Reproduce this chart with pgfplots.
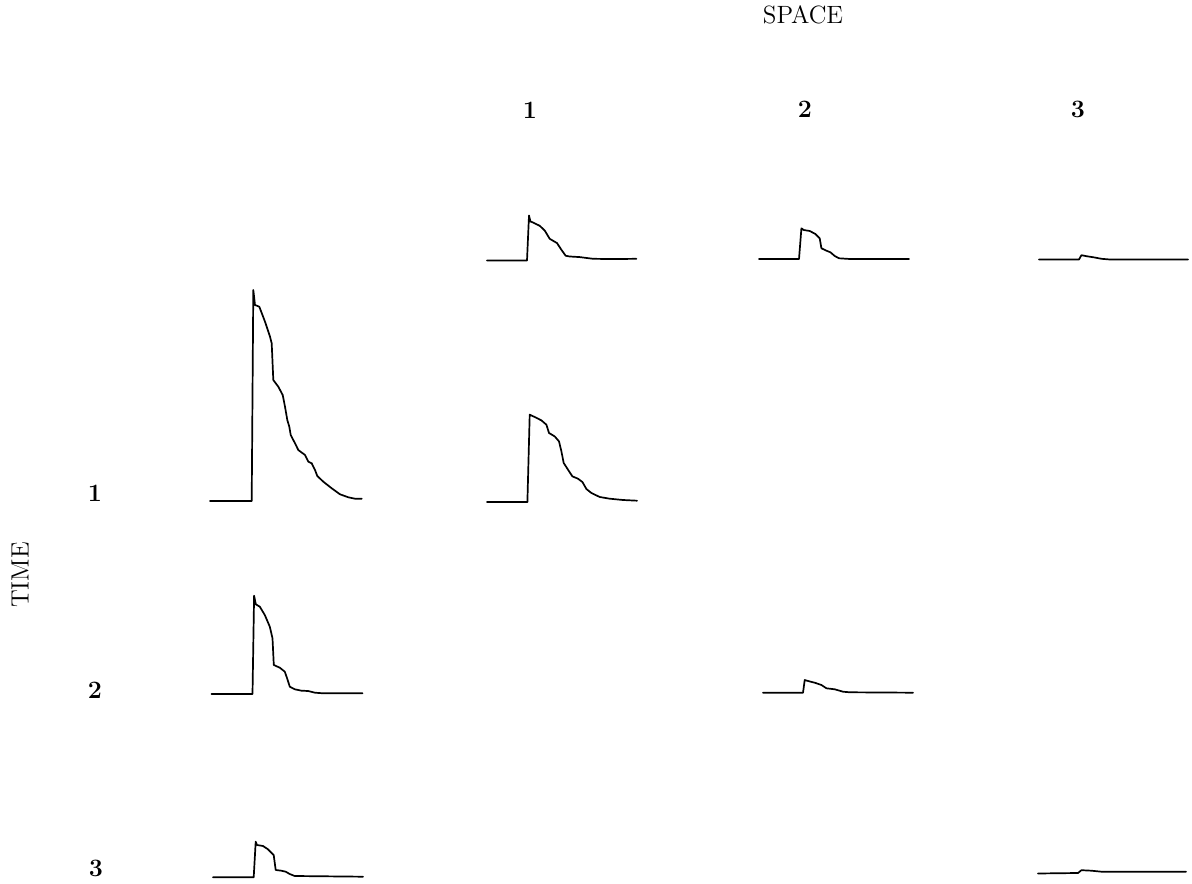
\documentclass[border=0pt]{standalone}
\usepackage{pgfplots}
\pgfplotsset{compat=1.18}

% one drawing unit = 0.5pt; vertical positions are measured from the top edge (883)
\pgfplotsset{
  panel/.style={
    hide axis, clip=false, enlargelimits=false,
    x=0.5pt, y=0.5pt, xmin=0, xmax=152, ymin=0, ymax=215,
    anchor=south west,
  },
  trace/.style={black, line width=0.85pt, line join=round, line cap=round},
}

\begin{document}
\begin{tikzpicture}[x=0.5pt, y=0.5pt]
\useasboundingbox (0,0) rectangle (1192,883);

\begin{scope}[font=\fontsize{12.5}{14}\selectfont]
  \node at (803,{883-15}) {SPACE};
  \node at (530,{883-110}) {\textbf{1}};
  \node at (805,{883-109}) {\textbf{2}};
  \node at (1078,{883-109}) {\textbf{3}};
  \node at (95,{883-493}) {\textbf{1}};
  \node at (95,{883-690}) {\textbf{2}};
  \node at (96,{883-868}) {\textbf{3}};
  \node[rotate=90] at (20,{883-575}) {TIME};
\end{scope}

% marginal in time, period 1
\begin{axis}[panel, at={(210,{883-501})}]
\addplot[trace] coordinates {
(0,0) (41.7,0) (43.3,211) (45,196) (49.3,194.3) (55,179.3) (60,164.3)
(61.7,157.7) (63.3,121) (68.3,114.3) (72.7,106) (75,94.3) (77.3,81)
(79.3,74.3) (80.7,66) (85,57.7) (88.3,51) (95,46) (98.3,39.3) (101.7,37.7)
(105,31) (107.3,25) (113.3,19.3) (121.7,12.7) (130,6.7) (138.3,3.7)
(145,2.3) (151.7,2.3)};
\end{axis}

% space 1, time 1
\begin{axis}[panel, at={(487,{883-502})}]
\addplot[trace] coordinates {
(0,0) (40.4,0) (42.7,87.3) (47.7,85) (54.4,81.6) (59.4,77.3) (62,69)
(67.7,65.6) (72,60.6) (74.4,50.6) (76.7,39) (81,32.3) (85.4,25.6)
(91,23.3) (95.4,20) (99.4,13) (104.4,9) (112.7,5) (122.7,3.3) (136,2)
(150,1.3)};
\end{axis}

% marginal in space, location 1
\begin{axis}[panel, at={(487,{883-260.5})}]
\addplot[trace] coordinates {
(0,0) (40,0) (42,45) (43.4,39) (46,38) (52.7,34.7) (57.7,30) (62.7,21.7)
(70,17.4) (74.4,10.7) (78.7,4.7) (82.7,4) (92.7,3.4) (106,1.7) (126,1.4)
(149.4,1.7)};
\end{axis}

% marginal in space, location 2
\begin{axis}[panel, at={(759,{883-259})}]
\addplot[trace] coordinates {
(0,0) (40,0) (42.4,30.7) (44.7,29) (50.7,28) (56.4,25) (60.7,20.7)
(62.4,10.7) (67.4,8.3) (71.4,6.7) (75.7,3) (80,0.7) (90.7,0) (150,0)};
\end{axis}

% marginal in space, location 3
\begin{axis}[panel, at={(1039,{883-259.5})}]
\addplot[trace] coordinates {
(0,0) (40,0) (42.4,4.3) (47.4,3.3) (55.7,2) (62.4,0.7) (70.7,0) (149,0)};
\end{axis}

% marginal in time, period 2
\begin{axis}[panel, at={(211.5,{883-694})}]
\addplot[trace] coordinates {
(0,0) (41,0) (42.6,98.3) (44.3,89.7) (48.3,87.3) (53.3,79) (58.3,67.3)
(61,55.7) (62.3,29) (68.3,26.3) (73.3,22.3) (75.6,15.7) (78.3,7.3)
(83.3,4.7) (90,3.3) (96.6,3) (103.3,1.3) (111.6,0.7) (151,0.7)};
\end{axis}

% space 2, time 2
\begin{axis}[panel, at={(763,{883-692.7})}]
\addplot[trace] coordinates {
(0,0) (40,0) (41.7,12.7) (45,11.7) (51.7,10) (58.4,7.7) (63.4,4.4)
(71.7,3.4) (80,1) (86.7,0.4) (150,0)};
\end{axis}

% marginal in time, period 3
\begin{axis}[panel, at={(213,{883-877.3})}]
\addplot[trace] coordinates {
(0,0) (40.7,0) (42.7,35.6) (44,32.3) (50,31.3) (55,28) (60.7,22.3)
(62.7,7.3) (68.4,6.6) (72.7,5.6) (76.7,3.3) (81.7,1.3) (150,0.6)};
\end{axis}

% space 3, time 3
\begin{axis}[panel, at={(1038,{883-873.5})}]
\addplot[trace] coordinates {
(0,0) (40,0.5) (43.4,3.3) (53.4,2.8) (63.4,1.8) (80,1.7) (148,1.7)};
\end{axis}

\end{tikzpicture}
\end{document}
